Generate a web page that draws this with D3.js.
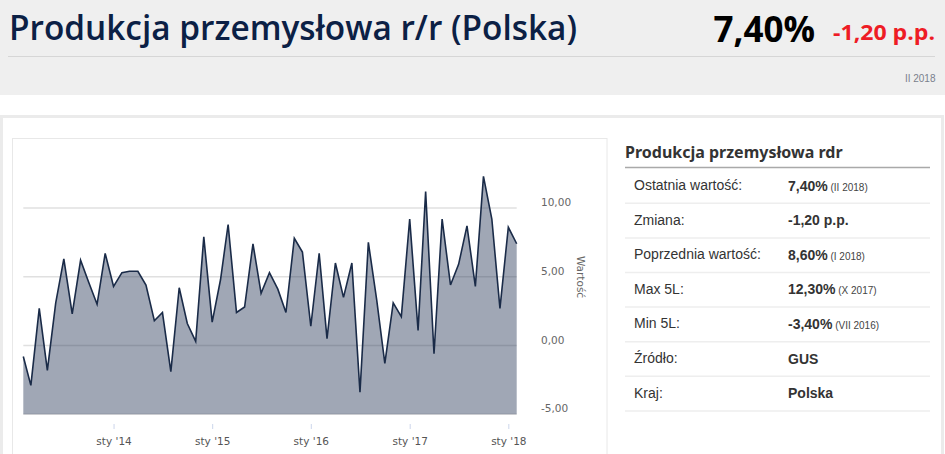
<!DOCTYPE html>
<html>
<head>
<meta charset="utf-8">
<script src="https://cdn.jsdelivr.net/npm/d3@7"></script>
<style>
  body { margin: 0; background: #fff; }
  svg { display: block; }
</style>
</head>
<body>
<div id="chart"></div>
<script>
// chart data - monthly, Feb 2013 .. Feb 2018
var startMonth = new Date(2013, 1, 1);
var values = [
  -0.8, -2.9, 2.7, -1.8, 3.1, 6.3, 2.3, 6.2, 4.6, 3.0, 6.7,
  4.3, 5.3, 5.4, 5.4, 4.4, 1.8, 2.4, -1.9, 4.2, 1.6, 0.3, 7.9,
  1.7, 4.8, 8.8, 2.4, 2.8, 7.4, 3.8, 5.3, 4.1, 2.4, 7.8, 6.8,
  1.4, 6.7, 0.5, 6.0, 3.5, 6.0, -3.4, 7.5, 3.3, -1.3, 3.1, 2.1,
  9.2, 1.1, 11.2, -0.6, 9.2, 4.4, 5.9, 8.7, 4.3, 12.3, 9.2, 2.7,
  8.6, 7.4
];
var yTicks = [-5, 0, 5, 10];
var xTickYears = [2014, 2015, 2016, 2017, 2018];

// side table
var tableLabels = ["Ostatnia wartość:", "Zmiana:", "Poprzednia wartość:", "Max 5L:", "Min 5L:", "Źródło:", "Kraj:"];
var tableValues = ["7,40%", "-1,20 p.p.", "8,60%", "12,30%", "-3,40%", "GUS", "Polska"];
var tableNotes = ["(II 2018)", "", "(I 2018)", "(X 2017)", "(VII 2016)", "", ""];

var W = 945, H = 454;

var svg = d3.select("#chart")
    .append("svg")
    .attr("width", W)
    .attr("height", H);

// ---- header ----
svg.append("rect")
    .attr("x", 0).attr("y", 0)
    .attr("width", W).attr("height", 95)
    .attr("fill", "#efefef");

svg.append("text")
    .attr("x", 9)
    .attr("y", 40)
    .attr("font-family", "'Open Sans', 'Noto Sans', sans-serif")
    .attr("font-size", 34)
    .attr("font-weight", 600)
    .attr("fill", "#0b2045")
    .attr("textLength", 568)
    .attr("lengthAdjust", "spacingAndGlyphs")
    .text("Produkcja przemysłowa r/r (Polska)");

svg.append("text")
    .attr("x", 815)
    .attr("y", 41.5)
    .attr("text-anchor", "end")
    .attr("font-family", "'Open Sans', 'Noto Sans', sans-serif")
    .attr("font-size", 35)
    .attr("font-weight", 700)
    .attr("fill", "#000")
    .text("7,40%");

svg.append("text")
    .attr("x", 833)
    .attr("y", 40)
    .attr("font-family", "'Open Sans', 'Noto Sans', sans-serif")
    .attr("font-size", 21)
    .attr("font-weight", 700)
    .attr("fill", "#ee1c25")
    .attr("textLength", 102)
    .attr("lengthAdjust", "spacingAndGlyphs")
    .text("-1,20 p.p.");

svg.append("line")
    .attr("x1", 8).attr("x2", 935)
    .attr("y1", 56.5).attr("y2", 56.5)
    .attr("stroke", "#d6d6d6")
    .attr("stroke-width", 1);

svg.append("text")
    .attr("x", 935.5)
    .attr("y", 82)
    .attr("text-anchor", "end")
    .attr("font-family", "'Liberation Sans', Arial, sans-serif")
    .attr("font-size", 10)
    .attr("fill", "#7a7f8c")
    .text("II 2018");

// ---- panel ----
svg.append("rect")
    .attr("x", 1.5).attr("y", 116.5)
    .attr("width", 941).attr("height", 345)
    .attr("fill", "#fff")
    .attr("stroke", "#ebebeb")
    .attr("stroke-width", 3);

svg.append("rect")
    .attr("x", 12.5).attr("y", 138.5)
    .attr("width", 594.5).attr("height", 330)
    .attr("fill", "#fff")
    .attr("stroke", "#e8e8e8")
    .attr("stroke-width", 1);

// ---- chart ----
var data = values.map(function(v, i) {
    return { date: d3.timeMonth.offset(startMonth, i), value: v };
});

var x = d3.scaleTime()
    .domain(d3.extent(data, function(d) { return d.date; }))
    .range([23.3, 516.7]);

var y = d3.scaleLinear()
    .domain([-5, 10])
    .range([414.3, 208]);

var g = svg.append("g");

// gridlines
var yAxis = d3.axisRight(y)
    .tickValues(yTicks)
    .tickSize(0)
    .tickFormat(function(d) { return d3.format(".2f")(d).replace(".", ",").replace("−", "-"); });

g.selectAll(".grid")
    .data(yTicks)
    .enter()
    .append("line")
    .attr("x1", x.range()[0])
    .attr("x2", x.range()[1])
    .attr("y1", function(d) { return y(d); })
    .attr("y2", function(d) { return y(d); })
    .attr("stroke", "#e0e0e0")
    .attr("stroke-width", 1.5);

// area + line
var area = d3.area()
    .x(function(d) { return x(d.date); })
    .y0(y(-5))
    .y1(function(d) { return y(d.value); });

var line = d3.line()
    .x(function(d) { return x(d.date); })
    .y(function(d) { return y(d.value); });

g.append("path")
    .datum(data)
    .attr("d", area)
    .attr("fill", "rgb(28,45,78)")
    .attr("fill-opacity", 0.42);

g.append("path")
    .datum(data)
    .attr("d", line)
    .attr("fill", "none")
    .attr("stroke", "#1a2b48")
    .attr("stroke-width", 1.6)
    .attr("stroke-linejoin", "miter");

// y axis (right side)
var yAx = svg.append("g")
    .attr("transform", "translate(541,-6)")
    .call(yAxis);
yAx.select(".domain").remove();
yAx.selectAll("text")
    .attr("x", 0)
    .attr("dy", "0.35em")
    .attr("text-anchor", "start")
    .attr("font-family", "'DejaVu Sans', Verdana, sans-serif")
    .attr("font-size", 10.5)
    .attr("fill", "#666");

svg.append("text")
    .attr("transform", "translate(577,277) rotate(90)")
    .attr("text-anchor", "middle")
    .attr("font-family", "'DejaVu Sans', Verdana, sans-serif")
    .attr("font-size", 10.5)
    .attr("fill", "#666")
    .text("Wartość");

// x axis
var xAxis = d3.axisBottom(x)
    .tickValues(xTickYears.map(function(yr) { return new Date(yr, 0, 1); }))
    .tickSize(5)
    .tickPadding(9)
    .tickFormat(function(d) { return "sty '" + String(d.getFullYear()).slice(2); });

var xAx = svg.append("g")
    .attr("transform", "translate(0,424)")
    .call(xAxis);
xAx.select(".domain").remove();
xAx.selectAll(".tick line").attr("stroke", "#ccd6eb");
xAx.selectAll("text")
    .attr("font-family", "'DejaVu Sans', Verdana, sans-serif")
    .attr("font-size", 10.5)
    .attr("fill", "#555");

// ---- side table ----
svg.append("text")
    .attr("x", 625)
    .attr("y", 157.5)
    .attr("font-family", "'Noto Sans', 'Open Sans', sans-serif")
    .attr("font-size", 16)
    .attr("font-weight", 700)
    .attr("fill", "#333")
    .text("Produkcja przemysłowa rdr");

svg.append("line")
    .attr("x1", 625).attr("x2", 930)
    .attr("y1", 167.5).attr("y2", 167.5)
    .attr("stroke", "#a9a9a9")
    .attr("stroke-width", 1.5);

var rowH = 34.6;
var rows = svg.selectAll(".row")
    .data(tableLabels)
    .enter()
    .append("g")
    .attr("transform", function(d, i) { return "translate(0," + (185 + i * rowH) + ")"; });

rows.append("text")
    .attr("x", 634)
    .attr("dy", "0.35em")
    .attr("font-family", "'Liberation Sans', Arial, sans-serif")
    .attr("font-size", 14)
    .attr("fill", "#333")
    .text(function(d) { return d; });

var val = rows.append("text")
    .attr("x", 788)
    .attr("dy", "0.35em")
    .attr("font-family", "'Liberation Sans', Arial, sans-serif")
    .attr("fill", "#333");

val.append("tspan")
    .attr("font-size", 14)
    .attr("font-weight", 700)
    .text(function(d, i) { return tableValues[i]; });

val.append("tspan")
    .attr("font-size", 10)
    .attr("fill", "#444")
    .text(function(d, i) { return tableNotes[i] ? " " + tableNotes[i] : ""; });

rows.append("line")
    .attr("x1", 625).attr("x2", 930)
    .attr("y1", rowH / 2 + 1).attr("y2", rowH / 2 + 1)
    .attr("stroke", "#eeeeee")
    .attr("stroke-width", 1.5);
</script>
</body>
</html>
